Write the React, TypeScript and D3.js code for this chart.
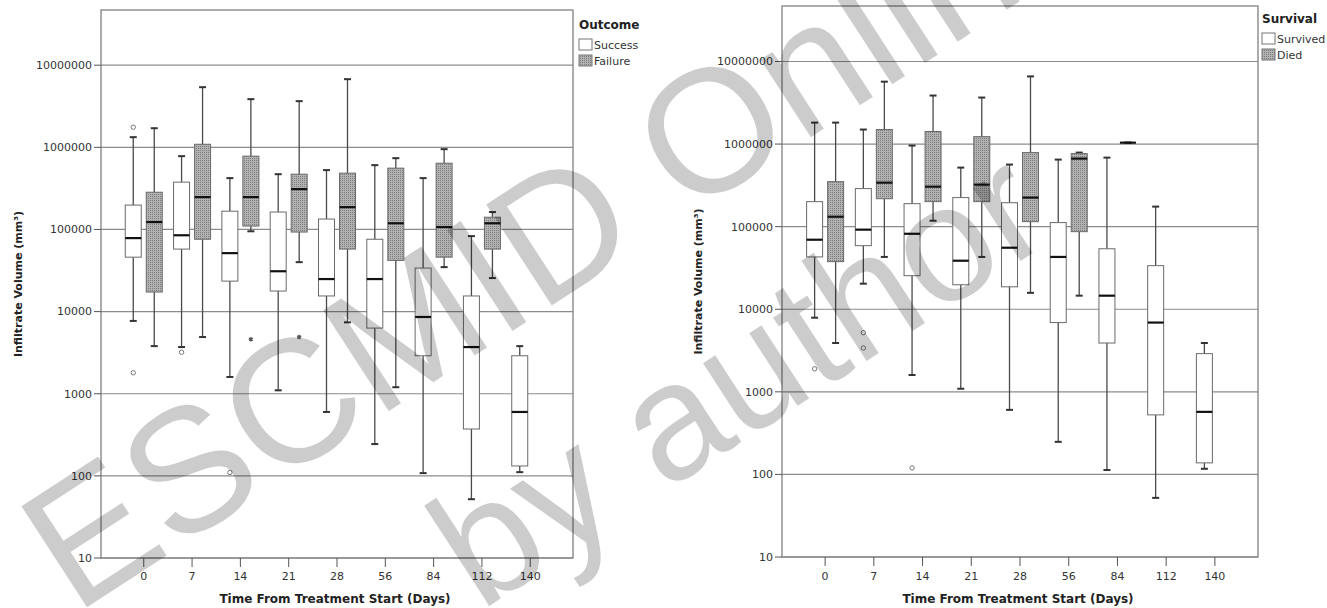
import { useEffect, useRef } from 'react';
import * as d3 from 'd3';

// ---- Data ------------------------------------------------------------
const DAYS = ['0', '7', '14', '21', '28', '56', '84', '112', '140'];
const Y_TICKS = [10, 100, 1000, 10000, 100000, 1000000, 10000000];

// Outcome panel — Success (white boxes)
const SUCCESS_LOW = [7700, 3700, 1600, 1100, 600, 244, 108, 52, 111];
const SUCCESS_Q1 = [46000, 57700, 23500, 17800, 15500, 6300, 2900, 372, 132];
const SUCCESS_MEDIAN = [78500, 85000, 51500, 31000, 24900, 24900, 8600, 3700, 600];
const SUCCESS_Q3 = [198000, 377000, 167000, 163000, 134000, 76000, 33900, 15500, 2900];
const SUCCESS_HIGH = [1330000, 781000, 422000, 471000, 528000, 607000, 422000, 83000, 3800];

// Outcome panel — Failure (hatched boxes)
const FAILURE_LOW = [3800, 4900, 95000, 40000, 7400, 1200, 34800, 25600, null];
const FAILURE_Q1 = [17300, 76000, 110000, 93000, 57700, 42000, 46000, 57700, null];
const FAILURE_MEDIAN = [123000, 248000, 248000, 310000, 187000, 119000, 107000, 119000, null];
const FAILURE_Q3 = [284000, 1090000, 781000, 471000, 485000, 558000, 641000, 141000, null];
const FAILURE_HIGH = [1710000, 5400000, 3860000, 3650000, 6760000, 738000, 950000, 163000, null];

// Survival panel — Survived (white boxes)
const SURVIVED_LOW = [7900, 20400, 1600, 1090, 605, 248, 113, 52, 117];
const SURVIVED_Q1 = [43000, 58900, 25500, 19800, 18700, 6900, 3900, 526, 138];
const SURVIVED_MEDIAN = [69500, 92000, 82000, 38700, 55600, 43000, 14600, 6900, 572];
const SURVIVED_Q3 = [201000, 289000, 190000, 225000, 195000, 112000, 54000, 33700, 2900];
const SURVIVED_HIGH = [1820000, 1500000, 959000, 519000, 565000, 649000, 686000, 175000, 3900];

// Survival panel — Died (hatched boxes)
const DIED_LOW = [3900, 43000, 118000, 43000, 15800, 14600, 1040000, null, null];
const DIED_Q1 = [37700, 218000, 201000, 201000, 115000, 87000, 1040000, null, null];
const DIED_MEDIAN = [132000, 341000, 305000, 323000, 225000, 667000, 1040000, null, null];
const DIED_Q3 = [351000, 1500000, 1420000, 1230000, 789000, 767000, 1040000, null, null];
const DIED_HIGH = [1820000, 5700000, 3870000, 3660000, 6600000, 789000, 1040000, null, null];

// Outliers: [day, value, mark]
const SUCCESS_OUTLIERS: [string, number, string][] = [
  ['0', 1760000, 'o'],
  ['0', 1800, 'o'],
  ['7', 3200, 'o'],
  ['14', 110, 'o'],
];
const FAILURE_OUTLIERS: [string, number, string][] = [
  ['14', 4600, '*'],
  ['21', 4900, '*'],
];
const SURVIVED_OUTLIERS: [string, number, string][] = [
  ['0', 1900, 'o'],
  ['7', 5200, 'o'],
  ['7', 3400, 'o'],
  ['14', 120, 'o'],
];
const DIED_OUTLIERS: [string, number, string][] = [];

const FONT = 'DejaVu Sans, Verdana, sans-serif';
const WIDTH = 1327;
const HEIGHT = 608;

interface Group {
  label: string;
  hatched: boolean;
  low: (number | null)[];
  q1: (number | null)[];
  median: (number | null)[];
  q3: (number | null)[];
  high: (number | null)[];
  outliers: [string, number, string][];
}

interface PanelConfig {
  x0: number;
  x1: number;
  y0: number;
  y1: number;
  yTitleX: number;
  legendX: number;
  legendY: number;
  legendTitle: string;
  groups: Group[];
}

const PANELS: PanelConfig[] = [
  {
    x0: 101, x1: 573, y0: 10, y1: 558, yTitleX: 18,
    legendX: 579, legendY: 29, legendTitle: 'Outcome',
    groups: [
      { label: 'Success', hatched: false, low: SUCCESS_LOW, q1: SUCCESS_Q1, median: SUCCESS_MEDIAN, q3: SUCCESS_Q3, high: SUCCESS_HIGH, outliers: SUCCESS_OUTLIERS },
      { label: 'Failure', hatched: true, low: FAILURE_LOW, q1: FAILURE_Q1, median: FAILURE_MEDIAN, q3: FAILURE_Q3, high: FAILURE_HIGH, outliers: FAILURE_OUTLIERS },
    ],
  },
  {
    x0: 782, x1: 1258, y0: 6, y1: 557, yTitleX: 698,
    legendX: 1262, legendY: 23, legendTitle: 'Survival',
    groups: [
      { label: 'Survived', hatched: false, low: SURVIVED_LOW, q1: SURVIVED_Q1, median: SURVIVED_MEDIAN, q3: SURVIVED_Q3, high: SURVIVED_HIGH, outliers: SURVIVED_OUTLIERS },
      { label: 'Died', hatched: true, low: DIED_LOW, q1: DIED_Q1, median: DIED_MEDIAN, q3: DIED_Q3, high: DIED_HIGH, outliers: DIED_OUTLIERS },
    ],
  },
];

const BOX_W = 16;
const CAP_W = 7;

function drawPanel(root: d3.Selection<SVGGElement, unknown, null, undefined>, cfg: PanelConfig) {
  const x = d3.scalePoint<string>().domain(DAYS).range([cfg.x0, cfg.x1]).padding(0.885);
  const y = d3.scaleLog().domain([10, 4.7e7]).range([cfg.y1, cfg.y0]);
  const offset = d3.scalePoint<string>()
    .domain(cfg.groups.map((g) => g.label))
    .range([-10.5, 10.5]);

  const g = root.append('g');

  // grid
  g.append('rect')
    .attr('x', cfg.x0).attr('y', cfg.y0)
    .attr('width', cfg.x1 - cfg.x0).attr('height', cfg.y1 - cfg.y0)
    .attr('fill', '#fff');
  g.selectAll('line.grid')
    .data(Y_TICKS)
    .join('line')
    .attr('class', 'grid')
    .attr('x1', cfg.x0).attr('x2', cfg.x1)
    .attr('y1', (d) => y(d)).attr('y2', (d) => y(d))
    .attr('stroke', '#8c8c8c').attr('stroke-width', 1.2);

  // boxes
  cfg.groups.forEach((grp) => {
    const boxes = DAYS.map((day, i) => ({
      day,
      low: grp.low[i], q1: grp.q1[i], median: grp.median[i], q3: grp.q3[i], high: grp.high[i],
    })).filter((b) => b.median != null);

    const bg = g.append('g');
    boxes.forEach((b) => {
      const cx = (x(b.day) ?? 0) + (offset(grp.label) ?? 0);
      const wcol = '#4a4a4a';
      bg.append('line')
        .attr('x1', cx).attr('x2', cx)
        .attr('y1', y(b.high as number)).attr('y2', y(b.q3 as number))
        .attr('stroke', wcol).attr('stroke-width', 1.3);
      bg.append('line')
        .attr('x1', cx).attr('x2', cx)
        .attr('y1', y(b.q1 as number)).attr('y2', y(b.low as number))
        .attr('stroke', wcol).attr('stroke-width', 1.3);
      [b.high, b.low].forEach((v) => {
        bg.append('line')
          .attr('x1', cx - CAP_W / 2).attr('x2', cx + CAP_W / 2)
          .attr('y1', y(v as number)).attr('y2', y(v as number))
          .attr('stroke', '#333').attr('stroke-width', 2);
      });
      bg.append('rect')
        .attr('x', cx - BOX_W / 2)
        .attr('y', y(b.q3 as number))
        .attr('width', BOX_W)
        .attr('height', Math.max(0, y(b.q1 as number) - y(b.q3 as number)))
        .attr('fill', grp.hatched ? 'url(#hatch)' : '#fff')
        .attr('stroke', '#6a6a6a').attr('stroke-width', 1);
      bg.append('line')
        .attr('x1', cx - BOX_W / 2).attr('x2', cx + BOX_W / 2)
        .attr('y1', y(b.median as number)).attr('y2', y(b.median as number))
        .attr('stroke', '#111').attr('stroke-width', 2.2);
    });

    grp.outliers.forEach(([day, value, mark]) => {
      const cx = (x(day) ?? 0) + (offset(grp.label) ?? 0);
      if (mark === 'o') {
        bg.append('circle')
          .attr('cx', cx).attr('cy', y(value)).attr('r', 2.2)
          .attr('fill', 'none').attr('stroke', '#777').attr('stroke-width', 1);
      } else {
        bg.append('path')
          .attr('transform', `translate(${cx},${y(value)})`)
          .attr('d', d3.symbol(d3.symbolAsterisk, 14)())
          .attr('fill', 'none').attr('stroke', '#555').attr('stroke-width', 1.4);
      }
    });
  });

  // frame
  g.append('rect')
    .attr('x', cfg.x0).attr('y', cfg.y0)
    .attr('width', cfg.x1 - cfg.x0).attr('height', cfg.y1 - cfg.y0)
    .attr('fill', 'none').attr('stroke', '#808080').attr('stroke-width', 1.3);

  // y axis
  const ya = g.append('g');
  Y_TICKS.forEach((t) => {
    ya.append('line')
      .attr('x1', cfg.x0 - 7).attr('x2', cfg.x0)
      .attr('y1', y(t)).attr('y2', y(t))
      .attr('stroke', '#555');
    ya.append('text')
      .attr('x', cfg.x0 - 9).attr('y', y(t)).attr('dy', '0.35em')
      .attr('text-anchor', 'end')
      .attr('font-family', FONT).attr('font-size', 11).attr('fill', '#333')
      .text(d3.format('d')(t));
  });
  ya.append('text')
    .attr('transform', `translate(${cfg.yTitleX}, ${(cfg.y0 + cfg.y1) / 2}) rotate(-90)`)
    .attr('dy', '0.35em')
    .attr('text-anchor', 'middle')
    .attr('font-family', FONT).attr('font-size', 11).attr('font-weight', 'bold').attr('fill', '#222')
    .text('Infiltrate Volume (mm³)');

  // x axis
  const xa = g.append('g');
  DAYS.forEach((d) => {
    xa.append('line')
      .attr('x1', x(d) ?? 0).attr('x2', x(d) ?? 0)
      .attr('y1', cfg.y1).attr('y2', cfg.y1 + 9)
      .attr('stroke', '#555');
    xa.append('text')
      .attr('x', x(d) ?? 0).attr('y', 580)
      .attr('text-anchor', 'middle')
      .attr('font-family', FONT).attr('font-size', 11).attr('fill', '#333')
      .text(d);
  });
  xa.append('text')
    .attr('x', (cfg.x0 + cfg.x1) / 2 - 2).attr('y', 603)
    .attr('text-anchor', 'middle')
    .attr('font-family', FONT).attr('font-size', 12).attr('font-weight', 'bold').attr('fill', '#222')
    .text('Time From Treatment Start (Days)');

  // legend
  const lg = g.append('g');
  lg.append('text')
    .attr('x', cfg.legendX).attr('y', cfg.legendY)
    .attr('font-family', FONT).attr('font-size', 12).attr('font-weight', 'bold').attr('fill', '#222')
    .text(cfg.legendTitle);
  cfg.groups.forEach((grp, i) => {
    const top = cfg.legendY + 10 + i * 16;
    lg.append('rect')
      .attr('x', cfg.legendX).attr('y', top)
      .attr('width', 13).attr('height', 11)
      .attr('fill', grp.hatched ? 'url(#hatch)' : '#fff')
      .attr('stroke', '#777');
    lg.append('text')
      .attr('x', cfg.legendX + 15).attr('y', top + 10)
      .attr('font-family', FONT).attr('font-size', 11).attr('fill', '#333')
      .text(grp.label);
  });
}

export default function App() {
  const svgRef = useRef<SVGSVGElement | null>(null);

  useEffect(() => {
    const svgEl = svgRef.current;
    if (!svgEl) return;
    const svg = d3.select(svgEl);
    svg.selectAll('*').remove();

    const defs = svg.append('defs');
    const pat = defs.append('pattern')
      .attr('id', 'hatch')
      .attr('patternUnits', 'userSpaceOnUse')
      .attr('width', 2).attr('height', 2);
    pat.append('rect').attr('width', 2).attr('height', 2).attr('fill', '#b2b2b2');
    pat.append('rect').attr('width', 1).attr('height', 1).attr('fill', '#7c7c7c');

    const root = svg.append('g') as unknown as d3.Selection<SVGGElement, unknown, null, undefined>;
    PANELS.forEach((p) => drawPanel(root, p));

    // watermark
    const wm = svg.append('g').attr('fill', '#000').attr('fill-opacity', 0.2)
      .attr('font-family', 'Liberation Sans, Arial, sans-serif');
    wm.append('text')
      .attr('font-size', 175)
      .attr('transform', 'translate(75, 615) rotate(-33)')
      .text('ESCMID Online');
    wm.append('text')
      .attr('font-size', 165)
      .attr('transform', 'translate(480, 612) rotate(-33)')
      .text('by author');
  }, []);

  return (
    <svg
      ref={svgRef}
      width={WIDTH}
      height={HEIGHT}
      style={{ position: 'absolute', left: 0, top: 0, display: 'block', background: '#fff' }}
    />
  );
}
